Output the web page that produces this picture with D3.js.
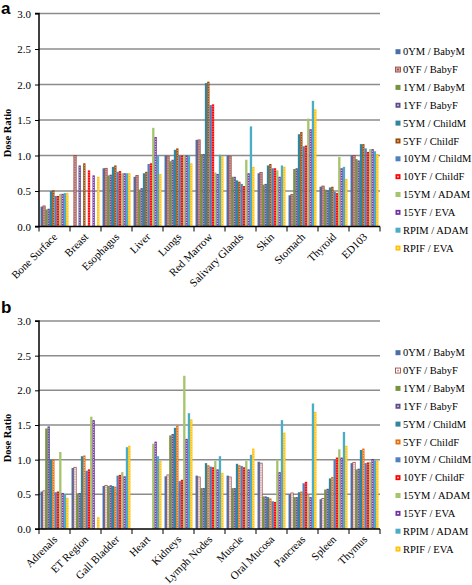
<!DOCTYPE html>
<html><head><meta charset="utf-8">
<script src="https://cdn.jsdelivr.net/npm/d3@7"></script>
<style>
html,body{margin:0;padding:0;background:#fff;}
svg{display:block;}
text{font-family:"Liberation Serif","Times New Roman",serif;fill:#000;}
</style></head>
<body>
<svg id="chart" width="472" height="585"></svg>
<script>
// ---------- data ----------
const seriesNames = ["0YM / BabyM","0YF / BabyF","1YM / BabyM","1YF / BabyF","5YM / ChildM","5YF / ChildF",
  "10YM / ChildM","10YF / ChildF","15YM / ADAM","15YF / EVA","RPIM / ADAM","RPIF / EVA"];
const yTicks = [0, 0.5, 1.0, 1.5, 2.0, 2.5, 3.0];

const categoriesA = ["Bone Surface","Breast","Esophagus","Liver","Lungs","Red Marrow","Salivary Glands","Skin","Stomach","Thyroid","ED103"];
const a_0YM  = [0.28, 0,    0.82, 0.70, 1.00, 1.22, 1.00, 0.75, 0.44, 0.56, 1.00];
const a_0YF  = [0.29, 1.00, 0.82, 0.72, 0.99, 1.22, 0.99, 0.76, 0.45, 0.57, 1.00];
const a_1YM  = [0.24, 0,    0.72, 0.52, 0.92, 1.02, 0.70, 0.59, 0.81, 0.52, 0.95];
const a_1YF  = [0.25, 0.86, 0.73, 0.54, 0.94, 1.02, 0.70, 0.60, 0.82, 0.51, 0.93];
const a_5YM  = [0.50, 0,    0.84, 0.75, 1.08, 2.02, 0.65, 0.86, 1.30, 0.55, 1.16];
const a_5YF  = [0.51, 0.89, 0.86, 0.77, 1.10, 2.04, 0.63, 0.88, 1.33, 0.56, 1.16];
const a_10YM = [0.43, 0,    0.77, 0.88, 1.00, 1.71, 0.60, 0.82, 1.13, 0.49, 1.10];
const a_10YF = [0.43, 0.79, 0.78, 0.89, 1.00, 1.72, 0.57, 0.82, 1.14, 0.47, 1.05];
const a_15YM = [0.46, 0,    0.75, 1.39, 1.00, 0.76, 0.94, 0.79, 1.52, 0.98, 1.09];
const a_15YF = [0.46, 0.72, 0.75, 1.26, 1.00, 0.74, 0.75, 0.70, 1.37, 0.82, 1.09];
const a_RPIM = [0.47, 0,    0.75, 1.00, 1.00, 1.01, 1.41, 0.86, 1.77, 0.84, 1.06];
const a_RPIF = [0.47, 0.70, 0.75, 0.74, 0.89, 0.99, 0.84, 0.84, 1.65, 0.67, 1.02];

const categoriesB = ["Adrenals","ET Region","Gall Bladder","Heart","Kidneys","Lymph Nodes","Muscle","Oral Mucosa","Pancreas","Spleen","Thymus"];
const b_0YM  = [0.54, 0.88, 0.62, 0,    0.76, 0.77, 0.77, 0.97, 0.50, 0.43, 0.95];
const b_0YF  = [0.55, 0.89, 0.63, 0,    0.78, 0.75, 0.75, 0.95, 0.52, 0.44, 0.96];
const b_1YM  = [1.45, 0.51, 0.62, 0,    1.35, 0.59, 0.59, 0.47, 0.46, 0.57, 0.86];
const b_1YF  = [1.48, 0.52, 0.63, 0,    1.37, 0.59, 0.59, 0.47, 0.46, 0.58, 0.87];
const b_5YM  = [1.00, 1.05, 0.62, 0,    1.46, 0.95, 0.94, 0.46, 0.53, 0.73, 1.14];
const b_5YF  = [1.00, 1.06, 0.61, 0,    1.49, 0.92, 0.92, 0.44, 0.54, 0.75, 1.16];
const b_10YM = [0.53, 0.84, 0.77, 0,    0.69, 0.90, 0.91, 0.40, 0.66, 1.00, 0.95];
const b_10YF = [0.54, 0.86, 0.78, 0,    0.71, 0.89, 0.89, 0.39, 0.68, 1.03, 0.96];
const b_15YM = [1.11, 1.62, 0.82, 1.23, 2.21, 0.98, 0.98, 1.00, 0.49, 1.15, 0.97];
const b_15YF = [0.52, 1.57, 0.76, 1.26, 1.30, 0.86, 0.86, 0.82, 0.46, 1.03, 1.01];
const b_RPIM = [0.50, 0,    1.18, 1.05, 1.67, 1.05, 1.07, 1.57, 1.81, 1.40, 0.99];
const b_RPIF = [0.45, 0.17, 1.20, 0.98, 1.58, 0.81, 1.16, 1.39, 1.69, 1.20, 0.98];

const valuesA = [a_0YM,a_0YF,a_1YM,a_1YF,a_5YM,a_5YF,a_10YM,a_10YF,a_15YM,a_15YF,a_RPIM,a_RPIF];
const valuesB = [b_0YM,b_0YF,b_1YM,b_1YF,b_5YM,b_5YF,b_10YM,b_10YF,b_15YM,b_15YF,b_RPIM,b_RPIF];

// ---------- styles ----------
const stylesA = [
  {fill:"#4a6ea8"},
  {fill:"#d0a9a6", stroke:"#953735", dash:"#953735"},
  {fill:"#77933c"},
  {fill:"#5f4b8b", dash:"#d8d0e8"},
  {fill:"#31859c"},
  {fill:"#984807", dash:"#e8c39a"},
  {fill:"#4f81bd"},
  {fill:"#ff0000", dash:"#ffd0d0"},
  {fill:"#a5c46b"},
  {fill:"#7030a0", dash:"#ffffff"},
  {fill:"#4bacc6"},
  {fill:"#ffc000", dash:"#fff2c8"}
];
const stylesB = stylesA.map((s,i)=> i===5 ? {fill:"#e46c0a", dash:"#fde0c6"} :
                                   i===1 ? {fill:"#ffffff", stroke:"#953735", dash:"#c07a77"} : s);

const svg = d3.select("#chart");

function drawPanel(letter, letterY, cats, values, styles, yBottom, yTop, legendY0) {
  const g = svg.append("g");
  const left = 39, right = 380;
  const x = d3.scaleBand().domain(cats).range([left, right]).paddingInner(0.1).paddingOuter(0.05);
  const xi = d3.scaleBand().domain(d3.range(seriesNames.length)).range([0, x.bandwidth()]);
  const y = d3.scaleLinear().domain([0, 3]).range([yBottom, yTop]);

  // gridlines
  g.append("g").selectAll("line").data(yTicks.filter(t=>t>0)).join("line")
    .attr("x1", left).attr("x2", right).attr("y1", d=>y(d)).attr("y2", d=>y(d))
    .attr("stroke", "#8c8c8c").attr("stroke-width", 1.5);

  // bars
  const rows = [];
  values.forEach((arr, si) => arr.forEach((v, ci) => rows.push({si, cat: cats[ci], v})));
  const bars = g.append("g");
  rows.filter(r=>r.v>0).forEach(r => {
    const st = styles[r.si];
    const bx = x(r.cat) + xi(r.si), bw = xi.bandwidth();
    bars.append("rect").attr("x", bx).attr("y", y(r.v)).attr("width", bw).attr("height", y(0) - y(r.v))
      .attr("fill", st.fill)
      .attr("stroke", st.stroke || "none").attr("stroke-width", st.stroke ? 0.7 : 0);
    if (st.dash) {
      bars.append("line").attr("x1", bx + bw/2).attr("x2", bx + bw/2)
        .attr("y1", y(r.v) + 1.5).attr("y2", y(0))
        .attr("stroke", st.dash).attr("stroke-width", 0.8).attr("stroke-dasharray", "1.2,1.3");
    }
  });

  // y axis
  const ya = g.append("g").attr("transform", `translate(${left},0)`)
    .call(d3.axisLeft(y).tickValues(yTicks).tickFormat(d3.format(".1f")).tickSize(4).tickPadding(4));
  ya.select(".domain").attr("stroke", "#000").attr("stroke-width", 1.5).attr("d", `M-4,${yTop}H0V${yBottom}H-4`);
  ya.selectAll(".tick line").attr("stroke", "#000");
  ya.selectAll("text").attr("font-size", 11).style("font-family", '"Liberation Serif",serif');

  // x axis
  g.append("line").attr("x1", left).attr("x2", right).attr("y1", y(0)).attr("y2", y(0))
    .attr("stroke", "#000").attr("stroke-width", 1.5);
  const step = x.step();
  const bounds = cats.map(c => x(c) - (step - x.bandwidth())/2).concat([right]);
  g.append("g").selectAll("line").data(bounds).join("line")
    .attr("x1", d=>d).attr("x2", d=>d).attr("y1", y(0)).attr("y2", y(0)+5)
    .attr("stroke", "#000").attr("stroke-width", 1);
  g.append("g").selectAll("text").data(cats).join("text")
    .attr("transform", c => `translate(${x(c) + x.bandwidth()/2 + 3.5},${y(0) + 11}) rotate(-45)`)
    .attr("text-anchor", "end").attr("font-size", 11).text(c=>c);

  // y label
  g.append("text").attr("transform", `translate(11,${(yTop+yBottom)/2 + 13}) rotate(-90)`)
    .attr("text-anchor", "middle").attr("font-size", 10.5).attr("font-weight", "bold").text("Dose Ratio");

  // panel letter
  svg.append("text").attr("x", 1).attr("y", letterY).attr("font-size", 17).attr("font-weight", "bold")
    .style("font-family", '"Liberation Sans",Arial,sans-serif').text(letter);

  // legend
  const lg = g.append("g");
  seriesNames.forEach((name, i) => {
    const ly = legendY0 + i * 17.85;
    const st = styles[i];
    lg.append("rect").attr("x", 395.5).attr("y", ly - 2.5).attr("width", 5).attr("height", 5)
      .attr("fill", st.fill).attr("stroke", st.stroke || "none").attr("stroke-width", st.stroke ? 0.8 : 0);
    if (st.dash) lg.append("rect").attr("x", 397.2).attr("y", ly - 0.8).attr("width", 1.6).attr("height", 1.6)
      .attr("fill", st.dash);
    lg.append("text").attr("x", 403).attr("y", ly + 3.6).attr("font-size", 10.5).text(name);
  });
}

drawPanel("a", 14, categoriesA, valuesA, stylesA, 226.5, 13.5, 51.7);
drawPanel("b", 313, categoriesB, valuesB, stylesB, 529, 321, 352.7);
</script>
</body></html>
